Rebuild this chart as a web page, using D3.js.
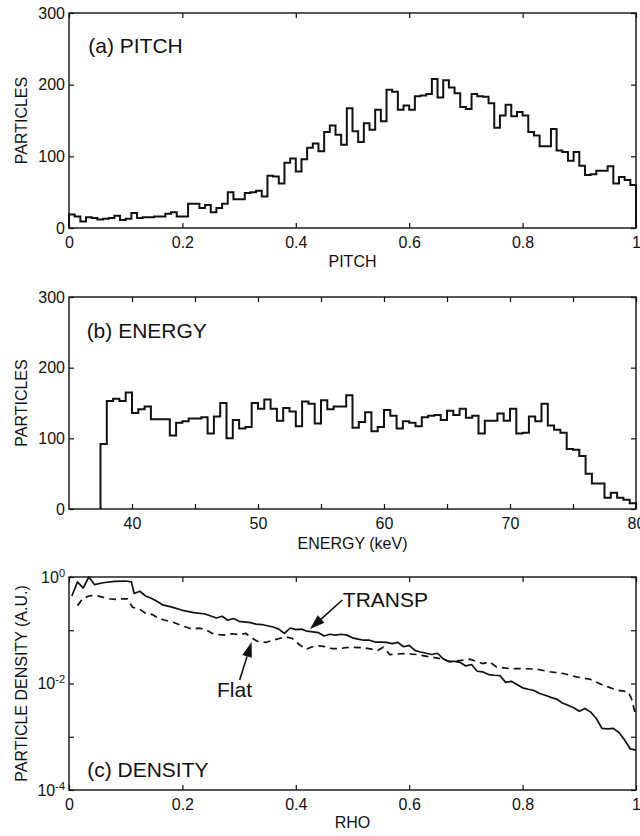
<!DOCTYPE html>
<html>
<head>
<meta charset="utf-8">
<script src="https://cdn.jsdelivr.net/npm/d3@7/dist/d3.min.js"></script>
<style>
  body { margin: 0; background: #fff; }
  svg { display: block; }
</style>
</head>
<body>
<div id="wrapper"></div>
<script>
// 1. Data

// (a) pitch histogram, 100 bins of width 0.01
const pitchBinStart = 0
const pitchBinWidth = 0.01
const pitchCounts = [
  19, 16, 9, 15, 14, 12, 13, 14, 17, 11,
  13, 21, 14, 15, 15, 16, 16, 20, 22, 16,
  16, 34, 34, 28, 32, 22, 28, 34, 50, 40,
  40, 49, 50, 52, 44, 73, 72, 62, 91, 97,
  79, 96, 112, 118, 107, 134, 143, 130, 116, 167,
  135, 120, 146, 137, 165, 149, 193, 190, 165, 171,
  165, 184, 185, 187, 208, 182, 206, 196, 188, 169,
  166, 187, 184, 183, 174, 140, 157, 172, 156, 162,
  157, 134, 129, 114, 114, 138, 108, 106, 94, 106,
  87, 74, 75, 80, 80, 86, 62, 71, 67, 60,
]

// (b) energy histogram, 0.5 keV bins starting at 37.5 keV
const energyBinStart = 37.5
const energyBinWidth = 0.5
const energyCounts = [
  92, 153, 156, 153, 165, 136, 141, 145, 127, 127,
  127, 104, 122, 124, 128, 128, 130, 107, 131, 150,
  100, 126, 114, 116, 150, 142, 155, 142, 125, 143,
  138, 117, 152, 149, 121, 154, 141, 145, 145, 161,
  115, 123, 137, 110, 116, 140, 132, 114, 124, 122,
  117, 130, 132, 133, 126, 139, 133, 142, 129, 132,
  107, 125, 125, 135, 125, 142, 107, 108, 131, 124,
  149, 118, 112, 108, 85, 84, 75, 50, 36, 36,
  16, 23, 16, 13, 8,
]

// (c) density profiles
const transpRho = [
  0.005, 0.015, 0.025, 0.035, 0.045, 0.06, 0.08, 0.1, 0.11, 0.115,
  0.125, 0.135, 0.145, 0.155, 0.165, 0.18, 0.2, 0.22, 0.24, 0.26,
  0.27, 0.28, 0.29, 0.3, 0.32, 0.33, 0.34, 0.36, 0.37, 0.38,
  0.39, 0.4, 0.41, 0.42, 0.43, 0.44, 0.45, 0.46, 0.47, 0.48,
  0.49, 0.5, 0.51, 0.52, 0.53, 0.54, 0.55, 0.56, 0.57, 0.58,
  0.59, 0.6, 0.61, 0.62, 0.63, 0.64, 0.65, 0.66, 0.67, 0.68,
  0.69, 0.7, 0.71, 0.72, 0.73, 0.74, 0.75, 0.76, 0.77, 0.78,
  0.79, 0.8, 0.81, 0.82, 0.83, 0.84, 0.85, 0.86, 0.87, 0.88,
  0.89, 0.9, 0.91, 0.92, 0.93, 0.94, 0.95, 0.96, 0.97, 0.98,
  0.99, 1.0,
]
const transpDensity = [
  0.44, 0.81, 0.62, 1.0, 0.72, 0.78, 0.83, 0.84, 0.81, 0.49,
  0.54, 0.44, 0.40, 0.35, 0.30, 0.274, 0.237, 0.214, 0.202, 0.17,
  0.183, 0.154, 0.166, 0.147, 0.139, 0.13, 0.128, 0.115, 0.105, 0.087,
  0.11, 0.103, 0.105, 0.096, 0.093, 0.09, 0.078, 0.084, 0.081, 0.084,
  0.081, 0.072, 0.068, 0.065, 0.065, 0.06, 0.06, 0.059, 0.056, 0.059,
  0.049, 0.052, 0.042, 0.039, 0.037, 0.035, 0.037, 0.029, 0.026, 0.026,
  0.0248, 0.0214, 0.0227, 0.017, 0.0165, 0.0147, 0.0143, 0.0141, 0.0105, 0.011,
  0.0096, 0.0083, 0.0078, 0.0074, 0.0065, 0.006, 0.0055, 0.0051, 0.0043, 0.0039,
  0.0035, 0.003, 0.0034, 0.0029, 0.0022, 0.00144, 0.0014, 0.00144, 0.0012, 0.00087,
  0.00059, 0.00056,
]
const flatRho = [
  0.015, 0.024, 0.035, 0.047, 0.059, 0.071, 0.082, 0.094, 0.103, 0.112,
  0.124, 0.135, 0.147, 0.159, 0.17, 0.182, 0.194, 0.206, 0.218, 0.229,
  0.241, 0.253, 0.265, 0.276, 0.288, 0.3, 0.312, 0.32, 0.332, 0.347,
  0.359, 0.371, 0.382, 0.394, 0.406, 0.418, 0.429, 0.441, 0.453, 0.465,
  0.476, 0.488, 0.5, 0.519, 0.545, 0.554, 0.566, 0.59, 0.613, 0.637,
  0.66, 0.672, 0.695, 0.707, 0.73, 0.742, 0.754, 0.778, 0.801, 0.825,
  0.848, 0.872, 0.895, 0.919, 0.942, 0.966, 0.986, 0.992, 0.998,
]
const flatDensity = [
  0.29, 0.39, 0.44, 0.45, 0.42, 0.39, 0.38, 0.39, 0.39, 0.27,
  0.25, 0.21, 0.197, 0.166, 0.154, 0.143, 0.128, 0.115, 0.104, 0.11,
  0.103, 0.087, 0.083, 0.081, 0.086, 0.083, 0.087, 0.075, 0.062, 0.059,
  0.065, 0.07, 0.075, 0.07, 0.054, 0.044, 0.049, 0.051, 0.049, 0.045,
  0.045, 0.047, 0.048, 0.047, 0.042, 0.048, 0.035, 0.0365, 0.035, 0.0316,
  0.0286, 0.0254, 0.0274, 0.0286, 0.0237, 0.0254, 0.0205, 0.019, 0.019, 0.0186,
  0.0166, 0.0154, 0.0133, 0.012, 0.0093, 0.0075, 0.007, 0.0052, 0.0029,
]

// ticks
const unitTicks = [0, 0.2, 0.4, 0.6, 0.8, 1]
const countTicks = [0, 100, 200, 300]
const energyTicks = [40, 45, 50, 55, 60, 65, 70, 75, 80]
const energyTickLabels = [40, 50, 60, 70, 80]
const densityTicks = [1, 1e-1, 1e-2, 1e-3, 1e-4]
const densityTickLabels = [1, 1e-2, 1e-4]

// annotations (data coordinates)
const transpLabel = { rho: 0.483, value: 0.273, tail: [0.482, 0.37], tip: [0.425, 0.105] }
const flatLabel = { rho: 0.261, value: 0.0056, tail: [0.301, 0.0116], tip: [0.322, 0.06] }

// 2. Dimensions
const width = 640
const height = 836
const plotLeft = 69
const plotRight = 636
const fontFamily = '"Liberation Sans", Arial, Helvetica, sans-serif'
const ink = "#111"

const panelA = { top: 13, bottom: 228 }
const panelB = { top: 297, bottom: 509 }
const panelC = { top: 577, bottom: 790 }

// 3. Canvas
const svg = d3
  .select("#wrapper")
  .append("svg")
  .attr("width", width)
  .attr("height", height)
  .style("font-family", fontFamily)

const tickLen = 5

function drawFrame(xScale, yScale, panel, opts) {
  const g = svg.append("g")

  g.append("g")
    .attr("transform", `translate(0,${panel.bottom})`)
    .call(
      d3.axisBottom(xScale)
        .tickValues(opts.xTicks)
        .tickSize(-tickLen)
        .tickPadding(9)
        .tickFormat(opts.xFormat)
    )
  g.append("g")
    .attr("transform", `translate(0,${panel.top})`)
    .call(d3.axisTop(xScale).tickValues(opts.xTicks).tickSize(-tickLen).tickFormat(""))
  const yAxis = g.append("g")
    .attr("transform", `translate(${plotLeft},0)`)
    .call(
      d3.axisLeft(yScale)
        .tickValues(opts.yTicks)
        .tickSize(-tickLen)
        .tickPadding(4)
        .tickFormat(opts.yFormat || "")
    )
  g.append("g")
    .attr("transform", `translate(${plotRight},0)`)
    .call(d3.axisRight(yScale).tickValues(opts.yTicks).tickSize(-tickLen).tickFormat(""))

  g.selectAll(".domain").remove()
  g.selectAll("g").attr("font-family", null).attr("font-size", null)
  g.selectAll(".tick line").attr("stroke", ink).attr("stroke-width", 1.2)
  g.selectAll(".tick text").attr("fill", ink).style("font-size", "16px")

  g.append("rect")
    .attr("x", plotLeft)
    .attr("y", panel.top)
    .attr("width", plotRight - plotLeft)
    .attr("height", panel.bottom - panel.top)
    .attr("fill", "none")
    .attr("stroke", ink)
    .attr("stroke-width", 1.4)

  // x label
  g.append("text")
    .attr("x", (plotLeft + plotRight) / 2)
    .attr("y", opts.xLabelY)
    .attr("text-anchor", "middle")
    .attr("fill", ink)
    .style("font-size", "16px")
    .text(opts.xLabel)

  // y label
  const midY = (panel.top + panel.bottom) / 2
  g.append("text")
    .attr("transform", `translate(27,${midY}) rotate(-90)`)
    .attr("text-anchor", "middle")
    .attr("fill", ink)
    .style("font-size", "16px")
    .text(opts.yLabel)

  return { g, yAxis }
}

function addTitle(x, y, text) {
  svg.append("text")
    .attr("x", x)
    .attr("y", y)
    .attr("fill", ink)
    .style("font-size", "21px")
    .text(text)
}

// histogram as a staircase outline
function stairPoints(start, binWidth, counts) {
  const pts = [[start, 0]]
  counts.forEach((c, i) => pts.push([start + i * binWidth, c]))
  const end = start + counts.length * binWidth
  pts.push([end, counts[counts.length - 1]])
  pts.push([end, 0])
  return pts
}

// 4. Panel (a) PITCH
const xPitch = d3.scaleLinear().domain([0, 1]).range([plotLeft, plotRight])
const yPitch = d3.scaleLinear().domain([0, 300]).range([panelA.bottom, panelA.top])

drawFrame(xPitch, yPitch, panelA, {
  xTicks: unitTicks,
  xFormat: d3.format("~g"),
  yTicks: countTicks,
  yFormat: d3.format("d"),
  xLabel: "PITCH",
  xLabelY: 267,
  yLabel: "PARTICLES",
})

const stairLine = (xs, ys) =>
  d3.line().x((d) => xs(d[0])).y((d) => ys(d[1])).curve(d3.curveStepAfter)

svg.append("path")
  .datum(stairPoints(pitchBinStart, pitchBinWidth, pitchCounts))
  .attr("d", stairLine(xPitch, yPitch))
  .attr("fill", "none")
  .attr("stroke", ink)
  .attr("stroke-width", 2)

addTitle(xPitch(0.034), yPitch(244), "(a) PITCH")

// 5. Panel (b) ENERGY
const xEnergy = d3.scaleLinear().domain([35, 80]).range([plotLeft, plotRight])
const yEnergy = d3.scaleLinear().domain([0, 300]).range([panelB.bottom, panelB.top])

drawFrame(xEnergy, yEnergy, panelB, {
  xTicks: energyTicks,
  xFormat: (d) => (energyTickLabels.includes(d) ? d : ""),
  yTicks: countTicks,
  yFormat: d3.format("d"),
  xLabel: "ENERGY (keV)",
  xLabelY: 549,
  yLabel: "PARTICLES",
})

svg.append("path")
  .datum(stairPoints(energyBinStart, energyBinWidth, energyCounts))
  .attr("d", stairLine(xEnergy, yEnergy))
  .attr("fill", "none")
  .attr("stroke", ink)
  .attr("stroke-width", 2)

addTitle(xEnergy(36.4), yEnergy(242), "(b) ENERGY")

// 6. Panel (c) DENSITY
const xRho = d3.scaleLinear().domain([0, 1]).range([plotLeft, plotRight])
const yDensity = d3.scaleLog().domain([1e-4, 1]).range([panelC.bottom, panelC.top])

const frameC = drawFrame(xRho, yDensity, panelC, {
  xTicks: unitTicks,
  xFormat: d3.format("~g"),
  yTicks: densityTicks,
  yFormat: () => "",
  xLabel: "RHO",
  xLabelY: 828,
  yLabel: "PARTICLE DENSITY (A.U.)",
})

// power-of-ten labels with superscript exponent
frameC.yAxis.selectAll(".tick text").each(function (d) {
  const t = d3.select(this).text("")
  if (!densityTickLabels.includes(d)) return
  t.append("tspan").text("10")
  t.append("tspan")
    .attr("dy", "-0.55em")
    .style("font-size", "11px")
    .text(Math.round(Math.log10(d)))
})

const densityLine = d3
  .line()
  .x((d) => xRho(d[0]))
  .y((d) => yDensity(d[1]))

svg.append("path")
  .datum(d3.zip(transpRho, transpDensity))
  .attr("d", densityLine)
  .attr("fill", "none")
  .attr("stroke", ink)
  .attr("stroke-width", 1.7)
  .attr("stroke-linejoin", "round")

svg.append("path")
  .datum(d3.zip(flatRho, flatDensity))
  .attr("d", densityLine)
  .attr("fill", "none")
  .attr("stroke", ink)
  .attr("stroke-width", 1.7)
  .attr("stroke-dasharray", "7,5")

addTitle(xRho(0.032), yDensity(1.75e-4), "(c) DENSITY")
addTitle(xRho(transpLabel.rho), yDensity(transpLabel.value), "TRANSP")
addTitle(xRho(flatLabel.rho), yDensity(flatLabel.value), "Flat")

function drawArrow(label) {
  const [x0, y0] = [xRho(label.tail[0]), yDensity(label.tail[1])]
  const [x1, y1] = [xRho(label.tip[0]), yDensity(label.tip[1])]
  const ang = Math.atan2(y1 - y0, x1 - x0)
  const headLen = 15
  const headHalf = 5
  const bx = x1 - headLen * Math.cos(ang)
  const by = y1 - headLen * Math.sin(ang)
  svg.append("line")
    .attr("x1", x0).attr("y1", y0)
    .attr("x2", bx).attr("y2", by)
    .attr("stroke", ink)
    .attr("stroke-width", 1.6)
  const px = -Math.sin(ang) * headHalf
  const py = Math.cos(ang) * headHalf
  svg.append("path")
    .attr("d", `M${x1},${y1}L${bx + px},${by + py}L${bx - px},${by - py}Z`)
    .attr("fill", ink)
}
drawArrow(transpLabel)
drawArrow(flatLabel)
</script>
</body>
</html>
